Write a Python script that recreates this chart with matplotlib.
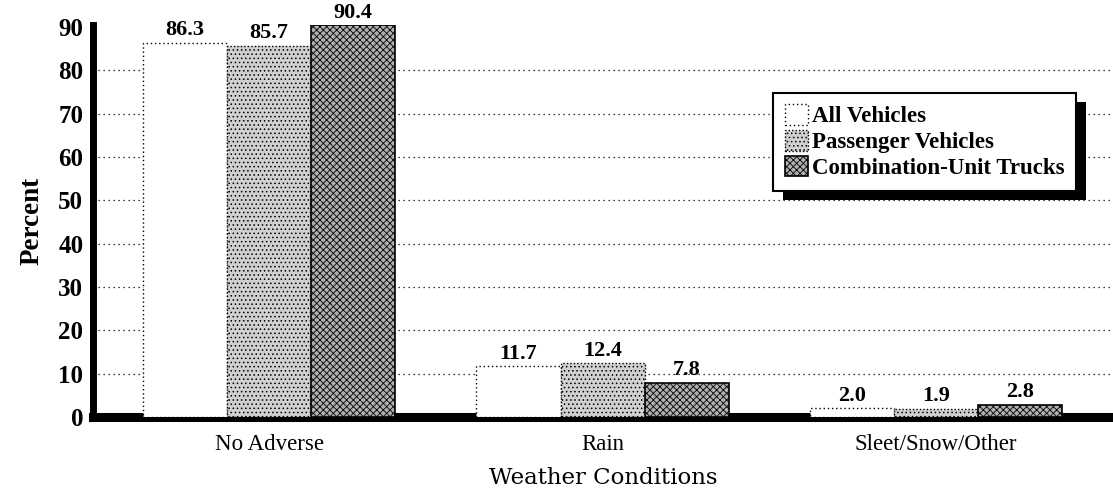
import numpy as np
import matplotlib.pyplot as plt
from matplotlib.patches import Patch, Rectangle

# data
conditions = ['No Adverse', 'Rain', 'Sleet/Snow/Other']
all_vehicles = [86.3, 11.7, 2.0]
passenger = [85.7, 12.4, 1.9]
combo_trucks = [90.4, 7.8, 2.8]
series_names = ['All Vehicles', 'Passenger Vehicles', 'Combination-Unit Trucks']
yticks = [0, 10, 20, 30, 40, 50, 60, 70, 80, 90]

plt.rcParams['hatch.linewidth'] = 0.6
serif = ['Liberation Serif', 'DejaVu Serif']

fig = plt.figure(figsize=(11.13, 4.9), dpi=100)
ax = fig.add_axes([0.0836, 0.149, 0.9164, 0.800])

x = np.arange(len(conditions))
w = 0.252

styles = [
    dict(facecolor='white', edgecolor='black', linestyle=(0, (1, 2)), linewidth=1.0),
    dict(facecolor='#d0d0d0', edgecolor='black', hatch='....', linestyle=(0, (1, 1.5)), linewidth=1.0),
    dict(facecolor='#b0b0b0', edgecolor='black', hatch='xxxxx', linewidth=1.2),
]

for i, vals in enumerate([all_vehicles, passenger, combo_trucks]):
    pos = x + (i - 1) * w
    ax.bar(pos, vals, width=w, zorder=3, **styles[i])
    for px, v in zip(pos, vals):
        ax.annotate(f'{v:.1f}', (px, v), xytext=(0, 2), textcoords='offset points',
                    ha='center', va='bottom', fontsize=16, fontweight='bold',
                    family=serif, zorder=4)

# dotted grid
for yv in yticks[1:-1]:
    ax.axhline(yv, color='black', linewidth=0.9, linestyle=(0, (1, 3)), zorder=1)

ax.set_xlim(-0.528, 2.531)
ax.set_ylim(0, 90.5)
ax.set_yticks(yticks)
ax.set_yticklabels([str(t) for t in yticks], fontsize=18, fontweight='bold', family=serif)
ax.set_xticks(x)
ax.set_xticklabels(conditions, fontsize=16.5, family=serif)
ax.tick_params(axis='y', length=0, pad=7)
ax.tick_params(axis='x', length=0, pad=12)

ax.spines['top'].set_visible(False)
ax.spines['right'].set_visible(False)
ax.spines['left'].set_linewidth(5)
ax.spines['bottom'].set_linewidth(6.5)

ax.set_ylabel('Percent', fontsize=19.5, fontweight='bold', family=serif, labelpad=10)
ax.set_xlabel('Weather Conditions', fontsize=16.5, family='DejaVu Serif', labelpad=9)

handles = [Patch(label=n, **s) for n, s in zip(series_names, styles)]
leg = ax.legend(handles=handles, loc='upper left', bbox_to_anchor=(0.667, 0.827),
                borderaxespad=0, fancybox=False, framealpha=1, edgecolor='black',
                prop={'family': serif, 'size': 16.5, 'weight': 'bold'},
                handlelength=1.0, handleheight=1.0, handletextpad=0.2,
                labelspacing=0.12, borderpad=0.5)
leg.get_frame().set_linewidth(1.5)
leg.set_zorder(6)

# black drop shadow behind the legend
fig.canvas.draw()
bb = leg.get_window_extent()
inv = ax.transAxes.inverted()
(x0, y0), (x1, y1) = inv.transform([(bb.x0 + 10, bb.y0 - 9), (bb.x1 + 10, bb.y1 - 9)])
ax.add_patch(Rectangle((x0, y0), x1 - x0, y1 - y0, transform=ax.transAxes,
                       facecolor='black', edgecolor='none', zorder=5.5, clip_on=False))

fig.savefig('out.png', dpi=100)
